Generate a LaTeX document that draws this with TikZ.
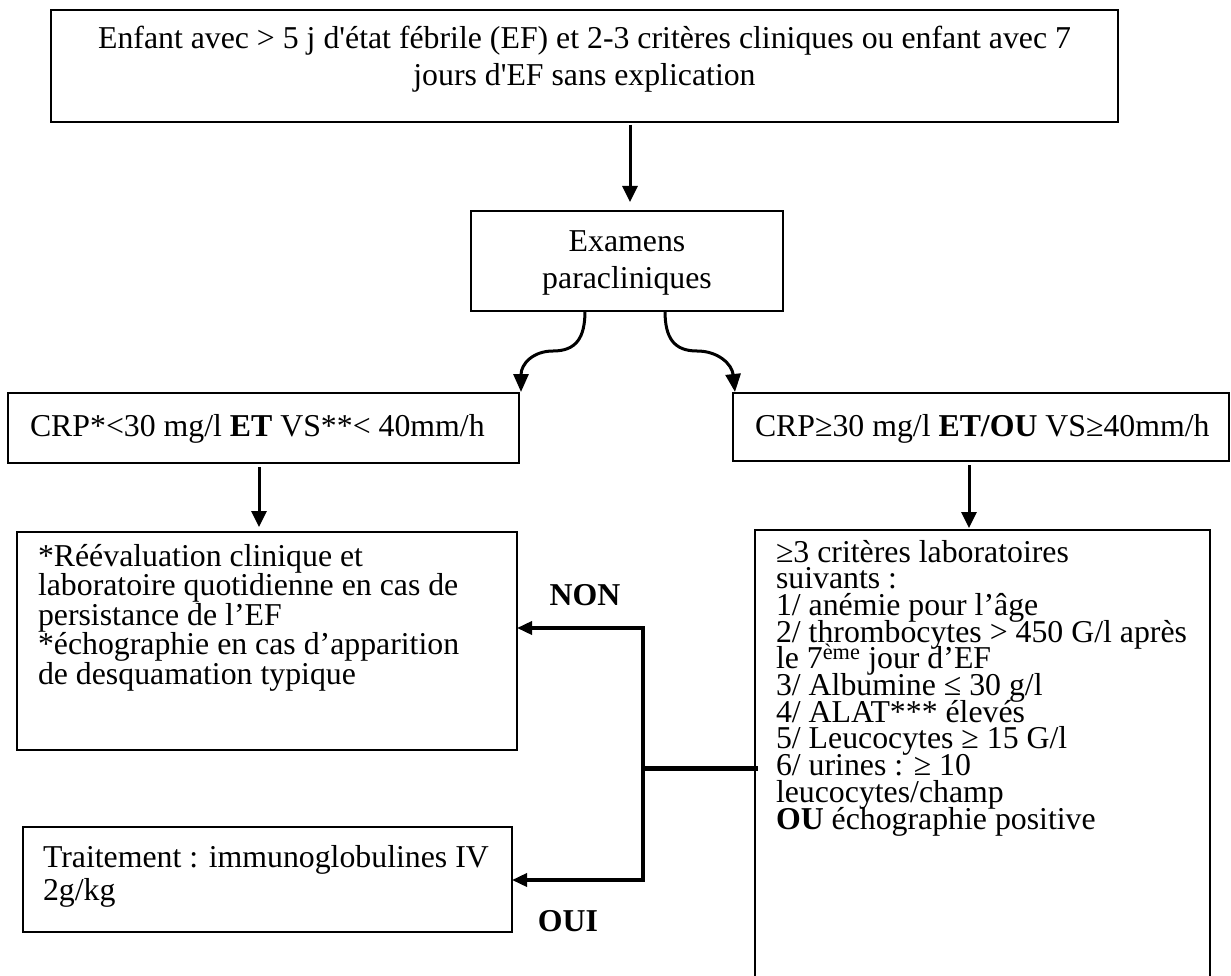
\documentclass[tikz,border=0pt]{standalone}
\usepackage{fontspec}
\setmainfont{Liberation Serif}
\usetikzlibrary{arrows.meta}
\newcommand\fsA{\fontsize{31.8}{36.6}\selectfont}
\newcommand\fsB{\fontsize{31.8}{29.5}\selectfont}
\newcommand\fsC{\fontsize{31.8}{26.7}\selectfont}
\newcommand\fsD{\fontsize{31.8}{33}\selectfont}
\newcommand\sq{\textquotesingle}
\begin{document}
\begin{tikzpicture}[x=1pt,y=-1pt,line join=miter,
  box/.style={draw, line width=2pt, inner sep=0pt, outer sep=0pt, anchor=north west},
  txt/.style={inner sep=0pt, outer sep=0pt},
  arr/.style={line width=3pt, -{Triangle[length=16pt,width=15pt]}},
  carr/.style={line width=3pt, -{Triangle[length=18pt,width=15pt]}},
  arrs/.style={line width=3.5pt, -{Triangle[length=15pt,width=13pt]}},
  lbl/.style={inner sep=0pt, font=\fsA\bfseries}]
\useasboundingbox (0,0) rectangle (1231,976);
% boxes
\node[box, minimum width=1067pt, minimum height=112pt] (top) at (51,10) {};
\node[box, minimum width=312pt, minimum height=100pt] (exam) at (471,211) {};
\node[box, minimum width=511pt, minimum height=70pt] (crpL) at (8,393) {};
\node[box, minimum width=496pt, minimum height=68pt] (crpR) at (733,393) {};
\node[box, minimum width=500pt, minimum height=218pt] (reev) at (17,532) {};
\node[box, minimum width=455pt, minimum height=460pt] (crit) at (755,530) {};
\node[box, minimum width=489pt, minimum height=105pt] (treat) at (23,827) {};
% texts
\node[txt, anchor=base] (ttop) at (584.5,49) {\fsA\parbox[t]{1060pt}{\centering Enfant avec > 5 j d\sq état fébrile (EF) et 2-3 critères cliniques ou enfant avec 7\\ jours d\sq EF sans explication}};
\node[txt, anchor=base] (texam) at (627,252) {\fsA\parbox[t]{300pt}{\centering Examens\\ paracliniques}};
\node[txt, anchor=base west] (tcrpL) at (30,436) {\fsA CRP*<30 mg/l \textbf{ET} VS**< 40mm/h};
\node[txt, anchor=base west] (tcrpR) at (755,436) {\fsA CRP≥30 mg/l \textbf{ET/OU} VS≥40mm/h};
\node[txt, anchor=base west] (treev) at (38,566) {\fsB\parbox[t]{700pt}{\lineskiplimit=-100pt\raggedright *Réévaluation clinique et\\ laboratoire quotidienne en cas de\\ persistance de l’EF\\{}*échographie en cas d’apparition\\ de desquamation typique}};
\node[txt, anchor=base west] (tcrit) at (776,562) {\fsC\parbox[t]{700pt}{\lineskiplimit=-100pt\raggedright ≥3 critères laboratoires\\ suivants :\\ 1/ anémie pour l’âge\\ 2/ thrombocytes > 450 G/l après\\ le 7\textsuperscript{ème} jour d’EF\\ 3/ Albumine ≤ 30 g/l\\ 4/ ALAT*** élevés\\ 5/ Leucocytes ≥ 15 G/l\\ 6/ urines : ≥ 10\\ leucocytes/champ\\ \textbf{OU} échographie positive}};
\node[txt, anchor=base west] (ttreat) at (43,867) {\fsD\parbox[t]{700pt}{\lineskiplimit=-100pt\raggedright Traitement : immunoglobulines IV\\ 2g/kg}};
\node[lbl] (non) at (585,595) {NON};
\node[lbl] (oui) at (568,921) {OUI};
% straight arrows
\draw[arr, shorten <=3pt, shorten >=9pt] (top.south -| 630,0) -- (exam.north -| 630,0);
\draw[arr, shorten <=4pt, shorten >=5pt] (crpL.south -| 259,0) -- (reev.north -| 259,0);
\draw[arr, shorten <=4pt, shorten >=2pt] (crpR.south -| 969,0) -- (crit.north -| 969,0);
% curved arrows
\draw[carr] (exam.south -| 585,0) .. controls (585,338) and (576,351) .. (553,351) .. controls (533,351) and (521,364) .. ([xshift=2pt,yshift=1pt]crpL.north east);
\draw[carr] (exam.south -| 665,0) .. controls (665,338) and (674,351) .. (697,351) .. controls (718,351) and (732,364) .. ([xshift=2pt,yshift=1pt]crpR.north west);
% decision connectors
\coordinate (j) at (643,768);
\coordinate (jN) at (643,628);
\coordinate (jS) at (643,880);
\draw[line width=5pt] ([xshift=3pt]crit.west |- j) -- ([xshift=-2pt]j);
\draw[arrs] (j) -- (jN) -- (reev.east |- jN);
\draw[arrs] (j) -- (jS) -- (treat.east |- jS);
\end{tikzpicture}
\end{document}
